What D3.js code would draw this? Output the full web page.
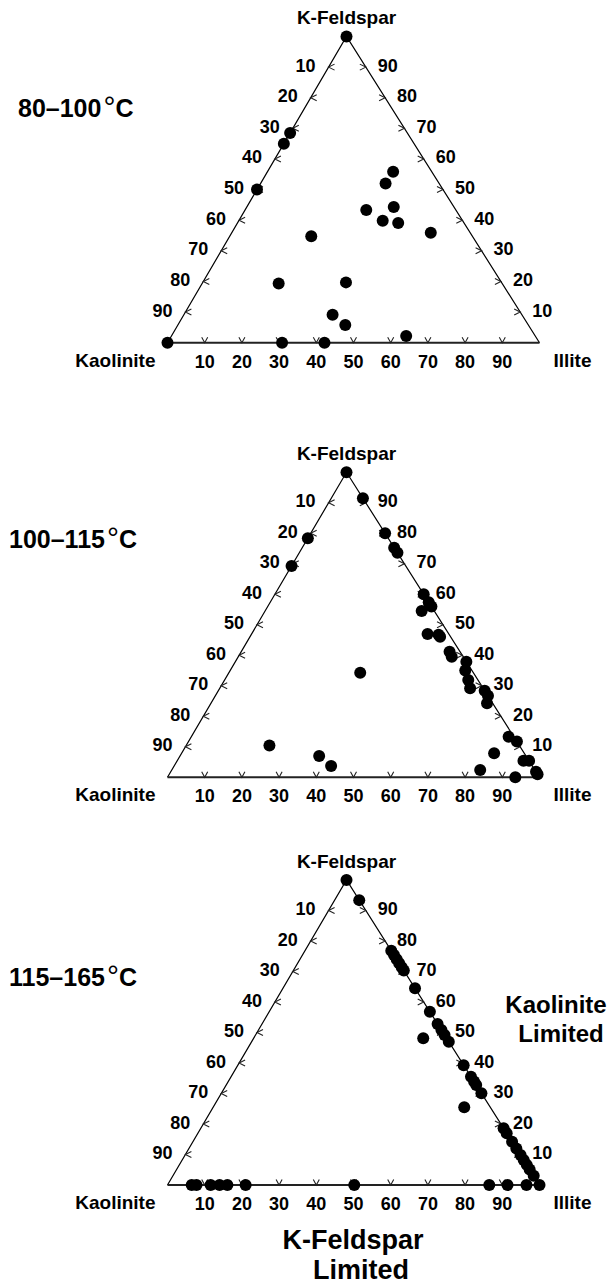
<!DOCTYPE html>
<html>
<head>
<meta charset="utf-8">
<script src="https://d3js.org/d3.v7.min.js"></script>
<style>
  body { margin: 0; background: #fff; }
  text { font-family: Arial, "Liberation Sans", sans-serif; font-weight: bold; fill: #000; }
  .edge { fill: none; stroke: #000; stroke-width: 1.2; }
  .base { fill: none; stroke: #222; stroke-width: 2; }
  .tick { fill: none; stroke: #222; stroke-width: 1.1; }
</style>
</head>
<body>
<div id="chartArea"></div>
<script>
var w = 615, h = 1285;

// tick labels along each edge
var tickValues = [10, 20, 30, 40, 50, 60, 70, 80, 90];
var titles = ["80–100", "100–115", "115–165"];

// points as [kaolinite, illite, K-feldspar] in %
var points80 = [
  [0, 0, 100], [31.5, 0, 68.5], [35, 0, 65], [50, 0, 50],
  [10.4, 33.8, 55.8], [14.4, 33.6, 52], [24.1, 32.6, 43.3], [16.2, 39.5, 44.3],
  [21.5, 38.7, 39.8], [17.7, 43.2, 39.1], [10.6, 53.5, 35.9], [43.3, 21.9, 34.8],
  [60.1, 20.6, 19.3], [41.8, 38.5, 19.7], [50.9, 40, 9.1], [49.2, 45, 5.8],
  [34.7, 63.1, 2.2], [100, 0, 0], [69.2, 30.8, 0], [57.8, 42.2, 0]
];
var points100 = [
  [0, 0, 100], [0, 8.5, 91.5], [0, 20, 80], [0, 24.7, 75.3], [0, 26.4, 73.6],
  [0, 40, 60], [0, 44, 56], [0, 42.6, 57.4], [3.4, 42.1, 54.5], [5.7, 47.3, 47],
  [2.9, 50.4, 46.7], [2.8, 51.1, 46.1], [2.8, 56, 41.2], [3.1, 57.4, 39.5],
  [0, 62.1, 37.9], [1.8, 63.2, 35], [2.6, 65.5, 31.9], [3.5, 67.3, 29.2],
  [0, 71.6, 28.4], [0, 73.3, 26.7], [1.5, 74.2, 24.3], [1.4, 85.3, 13.3],
  [0, 88.3, 11.7], [8.1, 84, 7.9], [1.5, 93.1, 5.4], [0, 94.6, 5.4],
  [0, 98.2, 1.8], [0, 99, 1], [14.7, 82.9, 2.4], [6.5, 93.5, 0],
  [21.6, 0, 78.4], [30.7, 0, 69.3], [67.2, 22.4, 10.4], [30.4, 35.3, 34.3],
  [55.6, 37.4, 7], [54.1, 42.2, 3.7]
];
var points115 = [
  [93.5, 6.5, 0], [92.2, 7.8, 0], [88.4, 11.6, 0], [86, 14, 0], [83.9, 16.1, 0],
  [79, 21, 0], [49.8, 50.2, 0], [13.5, 86.5, 0], [8.6, 91.4, 0], [3.5, 96.5, 0],
  [0, 100, 0],
  [0, 0, 100], [0, 6.6, 93.4], [0, 23.2, 76.8], [0, 24.6, 75.4], [0, 26, 74],
  [0, 27.3, 72.7], [0, 28.6, 71.4], [0, 29.7, 70.3], [0, 35.5, 64.5],
  [0, 43.2, 56.8], [0, 47.2, 52.8], [0, 49.2, 50.8], [0, 50.8, 49.2], [0, 53, 47],
  [0, 60.7, 39.3], [0, 64.5, 35.5], [0, 66.1, 33.9], [0, 67.2, 32.8], [0, 69.9, 30.1],
  [0, 81.4, 18.6], [0, 83, 17], [0, 85.8, 14.2], [0, 88, 12], [0, 90.2, 9.8],
  [0, 91.8, 8.2], [0, 93.4, 6.6], [0, 94.9, 5.1], [0, 97, 3],
  [6.3, 45.6, 48.1], [7, 67.5, 25.5]
];

var panels = [
  {data: points80,  apexY: 36.5,  baseY: 342.7, titleY: 117},
  {data: points100, apexY: 472.3, baseY: 777.3, titleY: 548},
  {data: points115, apexY: 880,   baseY: 1185,  titleY: 986}
];

var xL = 167.5, xR = 539.5, xT = 346.5;

var svg = d3.select("#chartArea").append("svg")
  .attr("width", w)
  .attr("height", h);

panels.forEach(function(p, i) {
  // illite runs along the base, K-feldspar lifts toward the apex
  var xIll = d3.scaleLinear().domain([0, 100]).range([xL, xR]);
  var xShear = d3.scaleLinear().domain([0, 100]).range([0, xT - xL]);
  var yKfs = d3.scaleLinear().domain([0, 100]).range([p.baseY, p.apexY]);
  var proj = function(d) { return [xIll(d[1]) + xShear(d[2]), yKfs(d[2])]; };

  var g = svg.append("g");

  var L = proj([100, 0, 0]), R = proj([0, 100, 0]), T = proj([0, 0, 100]);
  g.append("path").attr("class", "edge").attr("d", d3.line()([R, T, L]));
  g.append("path").attr("class", "base").attr("d", d3.line()([L, R]));

  // bottom ticks (illite)
  tickValues.forEach(function(v) {
    var q = proj([100 - v, v, 0]);
    g.append("path").attr("class", "tick")
      .attr("d", d3.line()([[q[0] - 3, q[1] - 5.5], q, [q[0] + 3, q[1] - 5.5]]));
    g.append("text").attr("x", q[0]).attr("y", q[1] + 25)
      .attr("text-anchor", "middle").style("font-size", "18px").text(v);
  });
  // left ticks (kaolinite)
  tickValues.forEach(function(v) {
    var q = proj([v, 0, 100 - v]);
    g.append("path").attr("class", "tick")
      .attr("d", d3.line()([[q[0] + 6, q[1] - 3], q, [q[0] + 6, q[1] + 3]]));
    g.append("text").attr("x", q[0] - 23).attr("y", q[1] + 4.5)
      .attr("text-anchor", "middle").style("font-size", "18px").text(v);
  });
  // right ticks (K-feldspar)
  tickValues.forEach(function(v) {
    var q = proj([0, 100 - v, v]);
    g.append("path").attr("class", "tick")
      .attr("d", d3.line()([[q[0] - 6, q[1] - 3], q, [q[0] - 6, q[1] + 3]]));
    g.append("text").attr("x", q[0] + 22).attr("y", q[1] + 4.5)
      .attr("text-anchor", "middle").style("font-size", "18px").text(v);
  });

  g.selectAll("circle")
    .data(p.data)
    .enter()
    .append("circle")
    .attr("cx", function(d) { return proj(d)[0]; })
    .attr("cy", function(d) { return proj(d)[1]; })
    .attr("r", 6)
    .attr("fill", "#000");

  g.append("text").attr("x", T[0]).attr("y", T[1] - 12.5)
    .attr("text-anchor", "middle").style("font-size", "19px").text("K-Feldspar");
  g.append("text").attr("x", L[0] - 12).attr("y", L[1] + 24)
    .attr("text-anchor", "end").style("font-size", "19px").text("Kaolinite");
  g.append("text").attr("x", R[0] + 14).attr("y", R[1] + 24)
    .style("font-size", "19px").text("Illite");

  var t = g.append("text").attr("x", i == 0 ? 18 : 9).attr("y", p.titleY)
    .style("font-size", "25px").text(titles[i]);
  t.append("tspan").style("font-weight", "normal").style("font-size", "30px").attr("dx", 2).text("°");
  t.append("tspan").text("C");
});

// region notes on the last panel
svg.append("text").attr("x", 556).attr("y", 1013).attr("text-anchor", "middle")
  .style("font-size", "24px").text("Kaolinite");
svg.append("text").attr("x", 561).attr("y", 1042).attr("text-anchor", "middle")
  .style("font-size", "24px").text("Limited");
svg.append("text").attr("x", 353).attr("y", 1249).attr("text-anchor", "middle")
  .style("font-size", "27px").text("K-Feldspar");
svg.append("text").attr("x", 361).attr("y", 1279).attr("text-anchor", "middle")
  .style("font-size", "27px").text("Limited");
</script>
</body>
</html>
